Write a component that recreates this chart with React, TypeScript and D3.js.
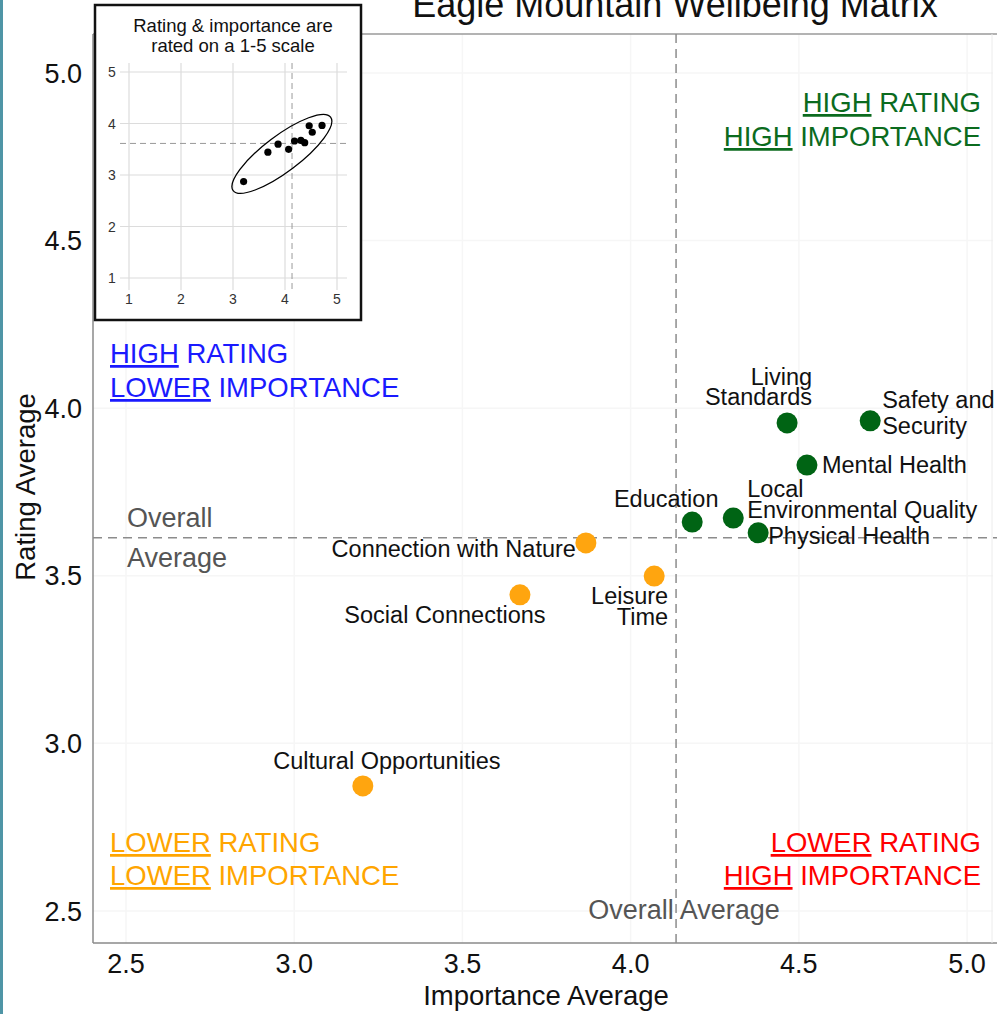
import React from "react";
import * as d3 from "d3";

const names = [
  "Living Standards",
  "Safety and Security",
  "Mental Health",
  "Education",
  "Local Environmental Quality",
  "Physical Health",
  "Connection with Nature",
  "Leisure Time",
  "Social Connections",
  "Cultural Opportunities",
];
const importance = [4.465, 4.712, 4.524, 4.183, 4.305, 4.379, 3.867, 4.07, 3.671, 3.204];
const rating = [3.956, 3.962, 3.83, 3.66, 3.672, 3.628, 3.598, 3.499, 3.443, 2.873];
const xTicks = [2.5, 3.0, 3.5, 4.0, 4.5, 5.0];
const yTicks = [2.5, 3.0, 3.5, 4.0, 4.5, 5.0];
const insetTicks = [1, 2, 3, 4, 5];
const avgImportance = 4.135;
const avgRating = 3.613;
// inset ellipse centre (data units)
const ellipseCenter = [3.94, 3.41];

// label layout (pixel offsets from the point, per line)
const labelLayout: Record<string, { anchor: string; dx: number; lines: [string, number][] }> = {
  "Living Standards": { anchor: "end", dx: 25, lines: [["Living", -38], ["Standards", -18]] },
  "Safety and Security": { anchor: "start", dx: 12, lines: [["Safety and", -13], ["Security", 13]] },
  "Mental Health": { anchor: "start", dx: 15, lines: [["Mental Health", 8]] },
  Education: { anchor: "middle", dx: -26, lines: [["Education", -15]] },
  "Local Environmental Quality": { anchor: "start", dx: 14, lines: [["Local", -21], ["Environmental Quality", 0]] },
  "Physical Health": { anchor: "start", dx: 10, lines: [["Physical Health", 11]] },
  "Connection with Nature": { anchor: "end", dx: -10, lines: [["Connection with Nature", 14]] },
  "Leisure Time": { anchor: "end", dx: 14, lines: [["Leisure", 28], ["Time", 49]] },
  "Social Connections": { anchor: "middle", dx: -75, lines: [["Social Connections", 28]] },
  "Cultural Opportunities": { anchor: "middle", dx: 24, lines: [["Cultural Opportunities", -17]] },
};

const FONT = "'Liberation Sans', Arial, Helvetica, sans-serif";

export default function App() {
  const W = 997, H = 1014;
  const x = d3.scaleLinear().domain([2.402, 5.077]).range([93, 993]);
  const y = d3.scaleLinear().domain([2.4045, 5.116]).range([943, 34]);
  const ix = d3.scaleLinear().domain([1, 5]).range([129, 337]);
  const iy = d3.scaleLinear().domain([1, 5]).range([278, 72]);

  const data = names.map((n, i) => ({ name: n, imp: importance[i], rat: rating[i] }));
  const isHigh = (d: any) => d.imp >= avgImportance && d.rat >= avgRating;

  const ellCx = ix(ellipseCenter[0]), ellCy = iy(ellipseCenter[1]);

  return (
    <svg width={W} height={H} style={{ position: "absolute", left: 0, top: 0, background: "#fff" }} fontFamily={FONT}>
      <rect x={0} y={0} width={W} height={H} fill="#fff" />
      <rect x={0} y={0} width={3} height={H} fill="#4f95a6" />

      {/* faint grid */}
      {xTicks.map((t) => (
        <line key={"gx" + t} x1={x(t)} x2={x(t)} y1={34} y2={943} stroke="#f6f6f6" strokeWidth={1.5} />
      ))}
      {yTicks.map((t) => (
        <line key={"gy" + t} x1={93} x2={993} y1={y(t)} y2={y(t)} stroke="#f6f6f6" strokeWidth={1.5} />
      ))}

      {/* panel border */}
      <line x1={93} x2={997} y1={34} y2={34} stroke="#9a9a9a" strokeWidth={1.5} />
      <line x1={93} x2={997} y1={943} y2={943} stroke="#8a8a8a" strokeWidth={1.5} />
      <line x1={93} x2={93} y1={34} y2={943} stroke="#8a8a8a" strokeWidth={1.5} />
      <line x1={992} x2={992} y1={34} y2={943} stroke="#ececec" strokeWidth={1} />

      {/* average lines */}
      <line x1={93} x2={997} y1={y(avgRating)} y2={y(avgRating)} stroke="#8c8c8c" strokeWidth={1.5} strokeDasharray="9,6" />
      <line x1={x(avgImportance)} x2={x(avgImportance)} y1={34} y2={943} stroke="#8c8c8c" strokeWidth={1.5} strokeDasharray="9,6" />

      {/* title */}
      <text x={675} y={17} textAnchor="middle" fontSize={36} fill="#111">Eagle Mountain Wellbeing Matrix</text>

      {/* y ticks */}
      {yTicks.map((t) => (
        <text key={"yt" + t} x={82} y={y(t)} dy="0.36em" textAnchor="end" fontSize={27} fill="#111">
          {t.toFixed(1)}
        </text>
      ))}
      {/* x ticks */}
      {xTicks.map((t) => (
        <text key={"xt" + t} x={x(t)} y={973} textAnchor="middle" fontSize={27} fill="#111">
          {t.toFixed(1)}
        </text>
      ))}
      <text x={546} y={1005} textAnchor="middle" fontSize={27.5} fill="#111">Importance Average</text>
      <text transform="translate(35,487) rotate(-90)" textAnchor="middle" fontSize={27.5} fill="#111">Rating Average</text>

      {/* average labels */}
      <text x={127} y={527} fontSize={27} fill="#555">Overall</text>
      <text x={127} y={567} fontSize={27} fill="#555">Average</text>
      <text x={684} y={919} textAnchor="middle" fontSize={27} fill="#555">Overall Average</text>

      {/* quadrant labels */}
      <text x={110} y={363} fontSize={27.5} fill="#1a1aff">
        <tspan textDecoration="underline">HIGH</tspan> RATING
      </text>
      <text x={110} y={397} fontSize={27.5} fill="#1a1aff">
        <tspan textDecoration="underline">LOWER</tspan> IMPORTANCE
      </text>
      <text x={981} y={112} textAnchor="end" fontSize={27.5} fill="#0b6b1e">
        <tspan textDecoration="underline">HIGH</tspan> RATING
      </text>
      <text x={981} y={146} textAnchor="end" fontSize={27.5} fill="#0b6b1e">
        <tspan textDecoration="underline">HIGH</tspan> IMPORTANCE
      </text>
      <text x={110} y={852} fontSize={27.5} fill="#ffa500">
        <tspan textDecoration="underline">LOWER</tspan> RATING
      </text>
      <text x={110} y={885} fontSize={27.5} fill="#ffa500">
        <tspan textDecoration="underline">LOWER</tspan> IMPORTANCE
      </text>
      <text x={981} y={852} textAnchor="end" fontSize={27.5} fill="#ff0000">
        <tspan textDecoration="underline">LOWER</tspan> RATING
      </text>
      <text x={981} y={885} textAnchor="end" fontSize={27.5} fill="#ff0000">
        <tspan textDecoration="underline">HIGH</tspan> IMPORTANCE
      </text>

      {/* points */}
      {data.map((d) => (
        <circle key={d.name} cx={x(d.imp)} cy={y(d.rat)} r={10.5} fill={isHigh(d) ? "#006414" : "#ffa50f"} />
      ))}
      {/* point labels */}
      {data.map((d) => {
        const L = labelLayout[d.name];
        return (
          <g key={"l" + d.name}>
            {L.lines.map(([txt, dy]) => (
              <text key={txt} x={x(d.imp) + L.dx} y={y(d.rat) + dy} textAnchor={L.anchor as any} fontSize={23.5} fill="#111">
                {txt}
              </text>
            ))}
          </g>
        );
      })}

      {/* inset */}
      <rect x={95} y={5} width={266} height={315} fill="#fff" stroke="#111" strokeWidth={2.5} />
      <text x={233} y={32} textAnchor="middle" fontSize={18.5} fill="#111">Rating &amp; importance are</text>
      <text x={233} y={52} textAnchor="middle" fontSize={18.5} fill="#111">rated on a 1-5 scale</text>
      {insetTicks.map((t) => (
        <line key={" igx" + t} x1={ix(t)} x2={ix(t)} y1={63} y2={290} stroke="#dcdcdc" strokeWidth={1.2} />
      ))}
      {insetTicks.map((t) => (
        <line key={"igy" + t} x1={120} x2={347} y1={iy(t)} y2={iy(t)} stroke="#dcdcdc" strokeWidth={1.2} />
      ))}
      <line x1={120} x2={347} y1={iy(avgRating)} y2={iy(avgRating)} stroke="#999" strokeWidth={1} strokeDasharray="6,4" />
      <line x1={ix(avgImportance)} x2={ix(avgImportance)} y1={63} y2={290} stroke="#999" strokeWidth={1} strokeDasharray="6,4" />
      {insetTicks.map((t) => (
        <text key={"ixt" + t} x={ix(t)} y={304} textAnchor="middle" fontSize={14} fill="#333">{t}</text>
      ))}
      {insetTicks.map((t) => (
        <text key={"iyt" + t} x={112} y={iy(t)} dy="0.36em" textAnchor="middle" fontSize={14} fill="#333">{t}</text>
      ))}
      {data.map((d) => (
        <circle key={"i" + d.name} cx={ix(d.imp)} cy={iy(d.rat)} r={3.6} fill="#000" />
      ))}
      <ellipse cx={ellCx} cy={ellCy} rx={61} ry={18} transform={`rotate(-37 ${ellCx} ${ellCy})`} fill="none" stroke="#000" strokeWidth={1.3} />
    </svg>
  );
}
